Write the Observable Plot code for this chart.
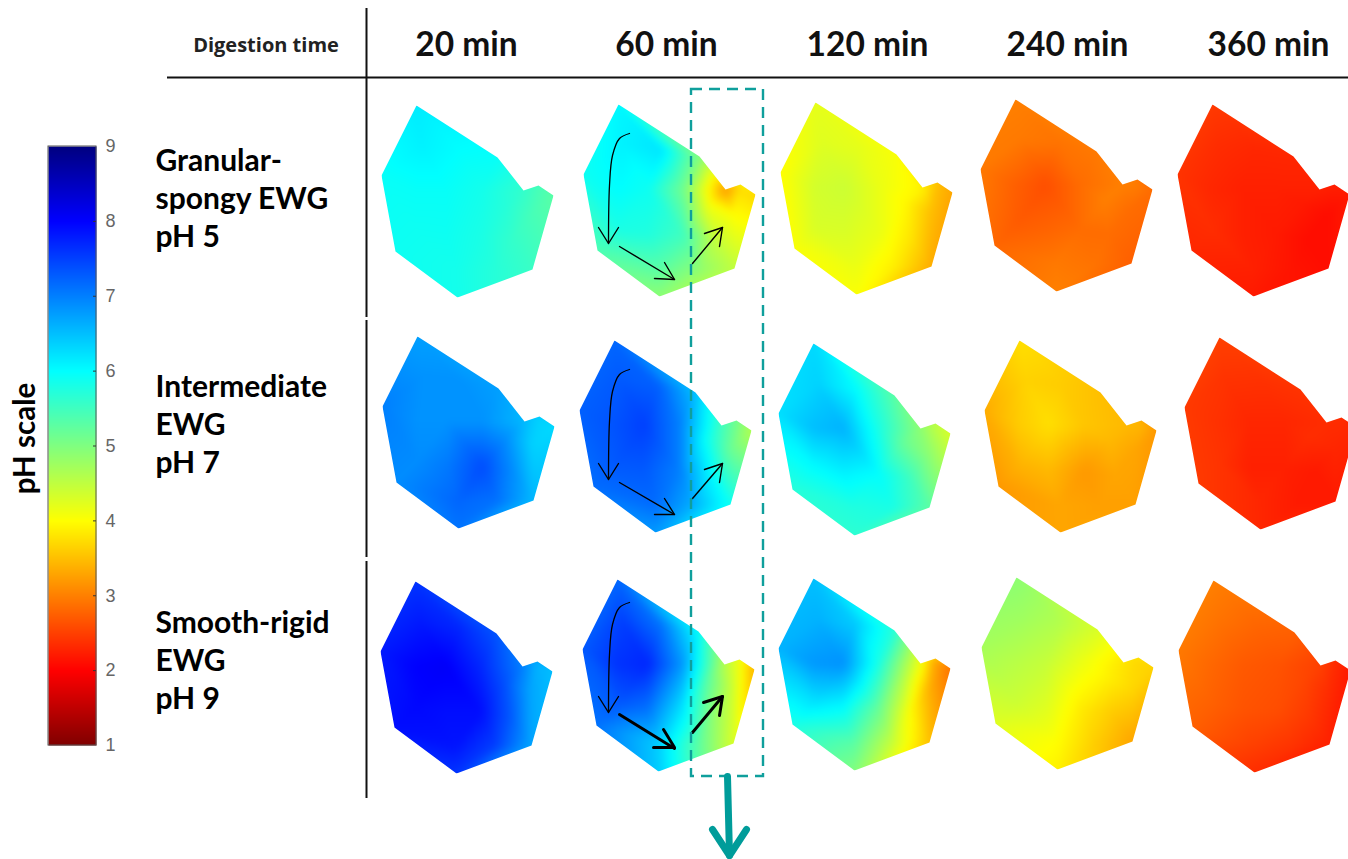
<!DOCTYPE html>
<html>
<head>
<meta charset="utf-8">
<script src="https://cdn.jsdelivr.net/npm/d3@7"></script>
<script src="https://cdn.jsdelivr.net/npm/@observablehq/plot@0.6"></script>
<style>html,body{margin:0;padding:0;background:#fff}svg{display:block}</style>
</head>
<body>
<div id="chart"></div>
<script>
const digestionTimes = ["20 min", "60 min", "120 min", "240 min", "360 min"];
const columnCentres = [466, 666, 867, 1067, 1268];
const eggWhiteGels = ["Granular-\nspongy EWG\npH 5", "Intermediate\nEWG\npH 7", "Smooth-rigid\nEWG\npH 9"];
const rowLabelCentres = [196, 422, 658];
const pHTicks = [1, 2, 3, 4, 5, 6, 7, 8, 9];

// outline of the sample, relative to its left edge and top vertex
const outline = [[35,0],[116,52],[142,85],[157,80],[172,90],[151,164],[76,192],[14,146],[0,70]];
// measurement sites, relative to the same origin
const sites = [[35,0],[116,52],[142,85],[157,80],[172,90],[151,164],[76,192],[14,146],[0,70],
  [40,40],[78,45],[35,85],[65,85],[100,85],[125,100],[150,110],[35,125],[65,130],[100,130],[130,135],[75,165],[115,165]];

// where each panel sits: [left, top]
const panelOrigins = [
  [[381,105],[583,104],[780,102],[980,99],[1177,104]],
  [[382,336],[579,340],[778,343],[984,340],[1184,337]],
  [[380,581],[582,579],[778,578],[981,577],[1178,580]]
];

// pH read at each site
const gran20  = [6.15,5.95,5.6,5.45,5.3,5.55,5.85,5.9,5.95,6.1,6.0,5.95,5.95,5.85,5.7,5.45,5.9,5.9,5.8,5.6,5.85,5.7];
const gran60  = [6.05,5.0,3.2,3.7,3.7,4.5,4.9,5.4,5.9,6.1,6.2,6.0,5.9,5.1,4.1,4.0,5.8,5.75,5.5,4.5,5.3,4.9];
const gran120 = [4.2,4.05,3.9,3.5,3.3,3.35,4.05,4.05,4.0,4.25,4.2,4.35,4.4,4.15,3.95,3.5,4.3,4.3,4.15,3.8,4.15,3.85];
const gran240 = [3.0,2.95,3.0,3.0,2.85,2.75,3.0,2.8,2.95,2.95,2.9,2.75,2.62,2.85,3.0,2.85,2.72,2.78,2.85,2.85,2.95,2.9];
const gran360 = [2.45,2.3,2.25,2.25,2.2,2.1,2.2,2.3,2.4,2.35,2.3,2.3,2.25,2.25,2.2,2.1,2.35,2.25,2.2,2.1,2.25,2.15];
const inter20  = [6.75,6.75,6.55,6.35,6.3,6.55,7.1,6.9,7.0,6.85,6.85,6.85,6.85,6.85,6.85,6.35,6.9,7.05,7.4,6.9,7.2,7.1];
const inter60  = [7.2,6.5,5.5,5.1,4.6,5.9,6.8,7.15,7.25,7.3,7.25,7.35,7.5,7.0,6.0,5.2,7.3,7.3,7.0,6.1,7.15,6.6];
const inter120 = [6.3,5.3,4.9,4.5,4.3,5.3,5.65,5.7,6.25,6.35,6.0,6.5,6.6,5.8,5.2,4.9,6.0,6.1,6.0,5.55,5.75,5.8];
const inter240 = [3.75,3.5,3.45,3.45,3.2,3.25,3.3,3.2,3.35,3.65,3.6,3.6,3.75,3.55,3.45,3.3,3.4,3.45,3.2,3.3,3.3,3.25];
const inter360 = [2.5,2.4,2.35,2.35,2.3,2.2,2.3,2.45,2.45,2.4,2.38,2.38,2.3,2.3,2.35,2.3,2.4,2.25,2.25,2.2,2.3,2.2];
const smooth20  = [7.6,7.35,7.0,6.6,6.5,6.7,7.6,7.9,7.8,7.8,7.7,8.0,8.05,7.7,7.35,6.7,7.95,7.9,7.9,7.3,7.85,7.5];
const smooth60  = [7.2,6.0,4.6,4.1,3.4,4.3,6.4,7.1,7.3,7.5,7.1,7.6,7.7,6.8,5.3,4.4,7.3,7.1,6.2,4.9,6.4,5.3];
const smooth120 = [6.5,5.7,4.1,3.3,2.9,3.5,5.0,5.8,6.6,6.6,6.4,6.8,6.85,5.8,4.6,3.4,6.2,6.0,5.2,4.05,5.3,4.4];
const smooth240 = [4.9,4.3,3.8,3.7,3.65,3.3,3.9,4.25,4.7,4.75,4.6,4.55,4.45,4.15,3.9,3.7,4.4,4.25,3.85,3.6,4.0,3.6];
const smooth360 = [3.0,2.75,2.5,2.35,2.2,2.25,2.35,2.75,2.95,2.9,2.8,2.8,2.7,2.65,2.55,2.35,2.75,2.65,2.6,2.45,2.5,2.4];
const panelValues = [
  [gran20, gran60, gran120, gran240, gran360],
  [inter20, inter60, inter120, inter240, inter360],
  [smooth20, smooth60, smooth120, smooth240, smooth360]
];

// annotation geometry
const curvedShafts = [
  [[629,133],[619,138],[612,155],[609,185],[608,243]],
  [[629,369],[619,374],[612,391],[609,421],[608,479]],
  [[629,602],[619,607],[612,624],[609,654],[608,712]]
];
const thinArrowLines = [
  [[598,227],[608,243],[618,227]],
  [[598,463],[608,479],[618,463]],
  [[598,696],[608,712],[618,696]],
  [[619,246],[674,279]], [[664,262],[674,279],[654,278]],
  [[692,263],[722,227]], [[704,233],[722,227],[719,246]],
  [[619,482],[674,514]], [[664,498],[674,514],[654,514]],
  [[692,498],[722,463]], [[704,469],[722,463],[719,482]]
];
const thickArrowLines = [
  [[619,714],[674,748]], [[663,729],[674,747],[653,747]],
  [[692,732],[722,696]], [[703,702],[722,696],[719,715]]
];
const zoomArrowLines = [
  [[727,776],[729,855]], [[712,829],[729,855],[746,829]]
];
const tableRulesV = [[8,317],[320,557],[561,798]];
const tableRuleX = 366, tableRuleY = 77, tableRuleStart = 167;
const zoomBox = {x1:691, x2:763, y1:89, y2:776};
const barBox = {x1:48, x2:96, top:146, bottom:745};

const teal = "#0f9f9c";
const bodyFont = "Lato, sans-serif";
const jet = t => {
  const v = 1 - t; // low pH is red
  const c = d => Math.round(255 * Math.max(0, Math.min(1, 1.5 - Math.abs(4 * v - d))));
  return `rgb(${c(3)},${c(2)},${c(1)})`;
};
const barY = pH => barBox.bottom - (pH - 1) * (barBox.bottom - barBox.top) / 8;

let clipCount = 0;
const clippedTo = (points) => function(index, scales, values, dims, ctx, next) {
  const g = next(index, scales, values, dims, ctx);
  const id = `panel-clip-${clipCount++}`;
  const clip = document.createElementNS("http://www.w3.org/2000/svg", "clipPath");
  clip.setAttribute("id", id);
  const poly = document.createElementNS("http://www.w3.org/2000/svg", "polygon");
  poly.setAttribute("points", points.map(([x, y]) => `${scales.x(x)},${scales.y(y)}`).join(" "));
  clip.appendChild(poly);
  g.appendChild(clip);
  g.setAttribute("clip-path", `url(#${id})`);
  return g;
};

const panelMarks = panelValues.flatMap((row, r) => row.map((vals, c) => {
  const [ox, oy] = panelOrigins[r][c];
  const data = sites.map(([x, y], i) => ({x: ox + x, y: oy + y, pH: vals[i]}));
  return Plot.raster(data, {
    x: "x", y: "y", fill: "pH",
    x1: ox - 6, x2: ox + 178, y1: oy - 6, y2: oy + 198,
    interpolate: "barycentric", pixelSize: 1, blur: 3, imageRendering: "auto",
    render: clippedTo(outline.map(([x, y]) => [ox + x, oy + y]))
  });
}));

const barCorners = [
  {x: barBox.x1, y: barY(1), pH: 1}, {x: barBox.x2, y: barY(1), pH: 1},
  {x: barBox.x1, y: barY(9), pH: 9}, {x: barBox.x2, y: barY(9), pH: 9}
];

const pointsOf = lists => lists.flatMap((pts, id) => pts.map(([x, y]) => ({x, y, id})));

const plot = Plot.plot({
  width: 1348, height: 859, margin: 0,
  style: {background: "#fff"},
  x: {domain: [0, 1348], range: [0, 1348], axis: null},
  y: {domain: [0, 859], range: [0, 859], axis: null},
  color: {type: "linear", domain: [1, 9], interpolate: () => jet, clamp: true},
  marks: [
    ...panelMarks,
    // pH colour bar
    Plot.raster(barCorners, {x: "x", y: "y", fill: "pH", x1: barBox.x1, x2: barBox.x2, y1: barBox.top, y2: barBox.bottom, interpolate: "barycentric", pixelSize: 1}),
    Plot.rect([barBox], {x1: "x1", x2: "x2", y1: "top", y2: "bottom", stroke: "#555", strokeWidth: 1, fill: "none"}),
    Plot.ruleY(pHTicks.slice(1, -1), {y: barY, x1: barBox.x2 - 3, x2: barBox.x2, stroke: "#333", strokeWidth: 1}),
    Plot.text(pHTicks, {x: 105, y: barY, text: d => String(d), textAnchor: "start", fontSize: 18, fill: "#666", fontFamily: "Liberation Sans, sans-serif"}),
    Plot.text(["pH scale"], {x: 25, y: 438, rotate: -90, fontSize: 29.5, fontWeight: 700, fill: "#000", fontFamily: bodyFont}),
    // table rules
    Plot.ruleY([tableRuleY], {x1: tableRuleStart, x2: 1348, stroke: "#111", strokeWidth: 2}),
    Plot.ruleX(tableRulesV, {x: () => tableRuleX, y1: d => d[0], y2: d => d[1], stroke: "#111", strokeWidth: 2}),
    // headers
    Plot.text(["Digestion time"], {x: 265.5, y: 45, fontSize: 20, fontWeight: 700, fill: "#222", fontFamily: "Open Sans, sans-serif"}),
    Plot.text(digestionTimes, {x: (d, i) => columnCentres[i], y: 45, fontSize: 33.5, fontWeight: 700, fill: "#111", fontFamily: bodyFont}),
    Plot.text(eggWhiteGels, {x: 155, y: (d, i) => rowLabelCentres[i], lineAnchor: "middle", textAnchor: "start", fontSize: 30, lineHeight: 1.27, fontWeight: 700, fill: "#000", fontFamily: bodyFont}),
    // arrows on the 60 min column
    Plot.line(pointsOf(curvedShafts), {x: "x", y: "y", z: "id", curve: "catmull-rom", stroke: "#000", strokeWidth: 1.3}),
    Plot.line(pointsOf(thinArrowLines), {x: "x", y: "y", z: "id", stroke: "#000", strokeWidth: 1.4}),
    Plot.line(pointsOf(thickArrowLines), {x: "x", y: "y", z: "id", stroke: "#000", strokeWidth: 3}),
    // dashed zoom box and its arrow
    Plot.rect([zoomBox], {x1: "x1", x2: "x2", y1: "y1", y2: "y2", stroke: teal, strokeWidth: 2.4, strokeDasharray: "11 7", fill: "none"}),
    Plot.line(pointsOf(zoomArrowLines), {x: "x", y: "y", z: "id", stroke: "#009c9a", strokeWidth: 7})
  ]
});
document.getElementById("chart").appendChild(plot);
</script>
</body>
</html>
